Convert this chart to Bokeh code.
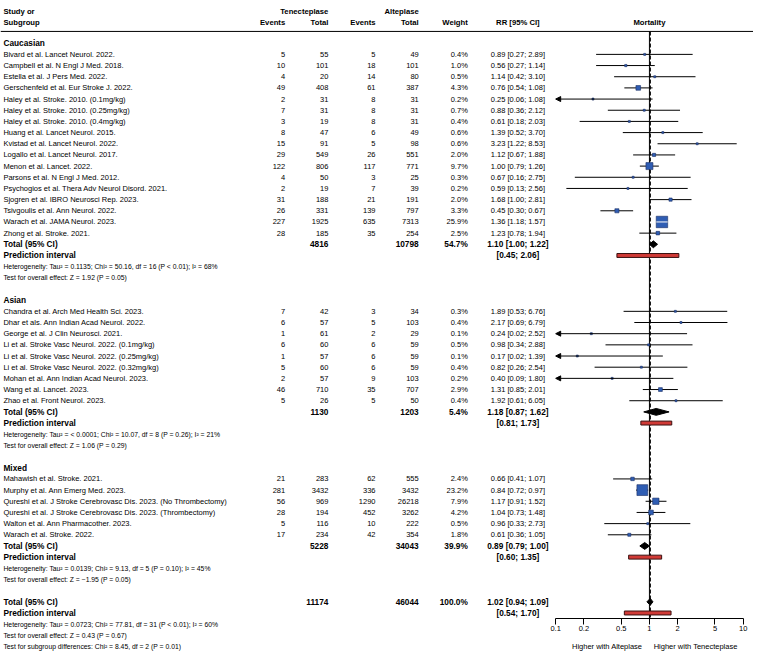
import math
from bokeh.plotting import figure
from bokeh.models import (Range1d, Span, ColumnDataSource, FixedTicker, LogScale, LabelSet,
                          CustomJSTickFormatter, LogAxis, Arrow, NormalHead)
from bokeh.embed import file_html
from bokeh.resources import INLINE
from bokeh.core.properties import value

FONT = "Liberation Sans"

# ---------------- data ----------------
caucasian_studies = [
    "Bivard et al. Lancet Neurol. 2022.",
    "Campbell et al. N Engl J Med. 2018.",
    "Estella et al. J Pers Med. 2022.",
    "Gerschenfeld et al. Eur Stroke J. 2022.",
    "Haley et al. Stroke. 2010. (0.1mg/kg)",
    "Haley et al. Stroke. 2010. (0.25mg/kg)",
    "Haley et al. Stroke. 2010. (0.4mg/kg)",
    "Huang et al. Lancet Neurol. 2015.",
    "Kvistad et al. Lancet Neurol. 2022.",
    "Logallo et al. Lancet Neurol. 2017.",
    "Menon et al. Lancet. 2022.",
    "Parsons et al. N Engl J Med. 2012.",
    "Psychogios et al. Thera Adv Neurol Disord. 2021.",
    "Sjogren et al. IBRO Neurosci Rep. 2023.",
    "Tsivgoulis et al. Ann Neurol. 2022.",
    "Warach et al. JAMA Neurol. 2023.",
    "Zhong et al. Stroke. 2021.",
]
caucasian_te_events = [5, 10, 4, 49, 2, 7, 3, 8, 15, 29, 122, 4, 2, 31, 26, 227, 28]
caucasian_te_total = [55, 101, 20, 408, 31, 31, 19, 47, 91, 549, 806, 50, 19, 188, 331, 1925, 185]
caucasian_al_events = [5, 18, 14, 61, 8, 8, 8, 6, 5, 26, 117, 3, 7, 21, 139, 635, 35]
caucasian_al_total = [49, 101, 80, 387, 31, 31, 31, 49, 98, 551, 771, 25, 39, 191, 797, 7313, 254]
caucasian_weight = [0.4, 1.0, 0.5, 4.3, 0.2, 0.7, 0.4, 0.6, 0.6, 2.0, 9.7, 0.3, 0.2, 2.0, 3.3, 25.9, 2.5]
caucasian_rr = [0.89, 0.56, 1.14, 0.76, 0.25, 0.88, 0.61, 1.39, 3.23, 1.12, 1.00, 0.67, 0.59, 1.68, 0.45, 1.36, 1.23]
caucasian_lo = [0.27, 0.27, 0.42, 0.54, 0.06, 0.36, 0.18, 0.52, 1.22, 0.67, 0.79, 0.16, 0.13, 1.00, 0.30, 1.18, 0.78]
caucasian_hi = [2.89, 1.14, 3.10, 1.08, 1.08, 2.12, 2.03, 3.70, 8.53, 1.88, 1.26, 2.75, 2.56, 2.81, 0.67, 1.57, 1.94]

asian_studies = [
    "Chandra et al. Arch Med Health Sci. 2023.",
    "Dhar et als. Ann Indian Acad Neurol. 2022.",
    "George et al. J Clin Neurosci. 2021.",
    "Li et al. Stroke Vasc Neurol. 2022. (0.1mg/kg)",
    "Li et al. Stroke Vasc Neurol. 2022. (0.25mg/kg)",
    "Li et al. Stroke Vasc Neurol. 2022. (0.32mg/kg)",
    "Mohan et al. Ann Indian Acad Neurol. 2023.",
    "Wang et al. Lancet. 2023.",
    "Zhao et al. Front Neurol. 2023.",
]
asian_te_events = [7, 6, 1, 6, 1, 5, 2, 46, 5]
asian_te_total = [42, 57, 61, 60, 57, 60, 57, 710, 26]
asian_al_events = [3, 5, 2, 6, 6, 6, 9, 35, 5]
asian_al_total = [34, 103, 29, 59, 59, 59, 103, 707, 50]
asian_weight = [0.3, 0.4, 0.1, 0.5, 0.1, 0.4, 0.2, 2.9, 0.4]
asian_rr = [1.89, 2.17, 0.24, 0.98, 0.17, 0.82, 0.40, 1.31, 1.92]
asian_lo = [0.53, 0.69, 0.02, 0.34, 0.02, 0.26, 0.09, 0.85, 0.61]
asian_hi = [6.76, 6.79, 2.52, 2.88, 1.39, 2.54, 1.80, 2.01, 6.05]

mixed_studies = [
    "Mahawish et al. Stroke. 2021.",
    "Murphy et al. Ann Emerg Med. 2023.",
    "Qureshi et al. J Stroke Cerebrovasc Dis. 2023. (No Thrombectomy)",
    "Qureshi et al. J Stroke Cerebrovasc Dis. 2023. (Thrombectomy)",
    "Walton et al. Ann Pharmacother. 2023.",
    "Warach et al. Stroke. 2022.",
]
mixed_te_events = [21, 281, 56, 28, 5, 17]
mixed_te_total = [283, 3432, 969, 194, 116, 234]
mixed_al_events = [62, 336, 1290, 452, 10, 42]
mixed_al_total = [555, 3432, 26218, 3262, 222, 354]
mixed_weight = [2.4, 23.2, 7.9, 4.2, 0.5, 1.8]
mixed_rr = [0.66, 0.84, 1.17, 1.04, 0.96, 0.61]
mixed_lo = [0.41, 0.72, 0.91, 0.73, 0.33, 0.36]
mixed_hi = [1.07, 0.97, 1.52, 1.48, 2.73, 1.05]

subgroup_names = ["Caucasian", "Asian", "Mixed"]
subgroup_te_total = [4816, 1130, 5228]
subgroup_al_total = [10798, 1203, 34043]
subgroup_weight = [54.7, 5.4, 39.9]
subgroup_rr = [1.10, 1.18, 0.89]
subgroup_lo = [1.00, 0.87, 0.79]
subgroup_hi = [1.22, 1.62, 1.00]
subgroup_pi_lo = [0.45, 0.81, 0.60]
subgroup_pi_hi = [2.06, 1.73, 1.35]
subgroup_het = [
    "Heterogeneity: Tau\u00b2 = 0.1135; Chi\u00b2 = 50.16, df = 16 (P < 0.01); I\u00b2 = 68%",
    "Heterogeneity: Tau\u00b2 = < 0.0001; Chi\u00b2 = 10.07, df = 8 (P = 0.26); I\u00b2 = 21%",
    "Heterogeneity: Tau\u00b2 = 0.0139; Chi\u00b2 = 9.13, df = 5 (P = 0.10); I\u00b2 = 45%",
]
subgroup_test = [
    "Test for overall effect: Z = 1.92 (P = 0.05)",
    "Test for overall effect: Z = 1.06 (P = 0.29)",
    "Test for overall effect: Z = \u22121.95 (P = 0.05)",
]

overall_te_total = 11174
overall_al_total = 46044
overall_weight = 100.0
overall_rr = 1.02
overall_lo = 0.94
overall_hi = 1.09
overall_pi_lo = 0.54
overall_pi_hi = 1.70
overall_notes = [
    "Heterogeneity: Tau\u00b2 = 0.0723; Chi\u00b2 = 77.81, df = 31 (P < 0.01); I\u00b2 = 60%",
    "Test for overall effect: Z = 0.43 (P = 0.67)",
    "Test for subgroup differences: Chi\u00b2 = 8.45, df = 2 (P = 0.01)",
]

null_rr = 1.0
axis_ticks = [0.1, 0.2, 0.5, 1, 2, 5, 10]
caption_labels = ["Higher with Alteplase", "Higher with Tenecteplase"]

# ---------------- layout constants (reference pixel units) ----------------
W, H = 753, 654
REF_W = 767
K = W / REF_W
REF_H = H / K
AXIS_Y = 629               # axis line position
CAPTION_Y = 650
Y0, STEP = 43.5, 11.38
H1, H2, HLINE = 11.5, 22.5, 31.5
X_LABEL = 3
COL = dict(te_ev=290, te_tot=334, al_ev=382, al_tot=426, wt=476, rr=527)
PX_PER_DECADE = 95.5
X_NULL_PX = 661
FS_REG, FS_BOLD, FS_HEAD, FS_SMALL = "7.5px", "8.3px", "7.7px", "6.8px"

texts = {}
def add_text(key, x, y, t):
    d = texts.setdefault(key, dict(x=[], y=[], t=[]))
    d["x"].append(x); d["y"].append(y); d["t"].append(t)

def rrtxt(r, l, h):
    return f"{r:.2f} [{l:.2f}; {h:.2f}]"

HB = ("bold", FS_HEAD)
GB = ("bold", FS_BOLD)
RG = ("normal", FS_REG)
SM = ("normal", FS_SMALL)

# header
add_text(("left",) + HB, X_LABEL, H1, "Study or")
add_text(("left",) + HB, X_LABEL, H2, "Subgroup")
add_text(("right",) + HB, COL["te_tot"], H1, "Tenecteplase")
add_text(("right",) + HB, COL["al_tot"], H1, "Alteplase")
add_text(("right",) + HB, COL["te_ev"], H2, "Events")
add_text(("right",) + HB, COL["te_tot"], H2, "Total")
add_text(("right",) + HB, COL["al_ev"], H2, "Events")
add_text(("right",) + HB, COL["al_tot"], H2, "Total")
add_text(("right",) + HB, COL["wt"], H2, "Weight")
add_text(("center",) + HB, COL["rr"], H2, "RR [95% CI]")

study = dict(y=[], rr=[], lo=[], hi=[], w=[])
dia = dict(y=[], rr=[], lo=[], hi=[])
pred = dict(y=[], lo=[], hi=[])

groups = [
    (caucasian_studies, caucasian_te_events, caucasian_te_total, caucasian_al_events,
     caucasian_al_total, caucasian_weight, caucasian_rr, caucasian_lo, caucasian_hi),
    (asian_studies, asian_te_events, asian_te_total, asian_al_events,
     asian_al_total, asian_weight, asian_rr, asian_lo, asian_hi),
    (mixed_studies, mixed_te_events, mixed_te_total, mixed_al_events,
     mixed_al_total, mixed_weight, mixed_rr, mixed_lo, mixed_hi),
]

def ypos(k):
    return Y0 + k * STEP

i = 0
for g, (names, tev, ttot, aev, atot, wt, rr, lo, hi) in enumerate(groups):
    add_text(("left",) + GB, X_LABEL, ypos(i), subgroup_names[g]); i += 1
    for k in range(len(names)):
        y = ypos(i)
        add_text(("left",) + RG, X_LABEL, y, names[k])
        add_text(("right",) + RG, COL["te_ev"], y, str(tev[k]))
        add_text(("right",) + RG, COL["te_tot"], y, str(ttot[k]))
        add_text(("right",) + RG, COL["al_ev"], y, str(aev[k]))
        add_text(("right",) + RG, COL["al_tot"], y, str(atot[k]))
        add_text(("right",) + RG, COL["wt"], y, f"{wt[k]:.1f}%")
        add_text(("center",) + RG, COL["rr"], y, rrtxt(rr[k], lo[k], hi[k]))
        study["y"].append(y); study["rr"].append(rr[k]); study["lo"].append(lo[k])
        study["hi"].append(hi[k]); study["w"].append(wt[k])
        i += 1
    y = ypos(i)
    add_text(("left",) + GB, X_LABEL, y, "Total (95% CI)")
    add_text(("right",) + GB, COL["te_tot"], y, str(subgroup_te_total[g]))
    add_text(("right",) + GB, COL["al_tot"], y, str(subgroup_al_total[g]))
    add_text(("right",) + GB, COL["wt"], y, f"{subgroup_weight[g]:.1f}%")
    add_text(("center",) + GB, COL["rr"], y, rrtxt(subgroup_rr[g], subgroup_lo[g], subgroup_hi[g]))
    dia["y"].append(y); dia["rr"].append(subgroup_rr[g]); dia["lo"].append(subgroup_lo[g]); dia["hi"].append(subgroup_hi[g])
    i += 1
    y = ypos(i)
    add_text(("left",) + GB, X_LABEL, y, "Prediction interval")
    add_text(("center",) + GB, COL["rr"], y, f"[{subgroup_pi_lo[g]:.2f}; {subgroup_pi_hi[g]:.2f}]")
    pred["y"].append(y); pred["lo"].append(subgroup_pi_lo[g]); pred["hi"].append(subgroup_pi_hi[g])
    i += 1
    add_text(("left",) + SM, X_LABEL, ypos(i), subgroup_het[g]); i += 1
    add_text(("left",) + SM, X_LABEL, ypos(i), subgroup_test[g]); i += 1
    i += 1  # blank row

y = ypos(i)
add_text(("left",) + GB, X_LABEL, y, "Total (95% CI)")
add_text(("right",) + GB, COL["te_tot"], y, str(overall_te_total))
add_text(("right",) + GB, COL["al_tot"], y, str(overall_al_total))
add_text(("right",) + GB, COL["wt"], y, f"{overall_weight:.1f}%")
add_text(("center",) + GB, COL["rr"], y, rrtxt(overall_rr, overall_lo, overall_hi))
dia["y"].append(y); dia["rr"].append(overall_rr); dia["lo"].append(overall_lo); dia["hi"].append(overall_hi)
i += 1
y = ypos(i)
add_text(("left",) + GB, X_LABEL, y, "Prediction interval")
add_text(("center",) + GB, COL["rr"], y, f"[{overall_pi_lo:.2f}; {overall_pi_hi:.2f}]")
pred["y"].append(y); pred["lo"].append(overall_pi_lo); pred["hi"].append(overall_pi_hi)
i += 1
for note in overall_notes:
    add_text(("left",) + SM, X_LABEL, ypos(i), note); i += 1

# ---------------- figure ----------------
rr_range = Range1d(10 ** ((0 - X_NULL_PX) / PX_PER_DECADE), 10 ** ((REF_W - X_NULL_PX) / PX_PER_DECADE))
p = figure(width=W, height=H, x_range=Range1d(0, REF_W), y_range=Range1d(REF_H, 0),
           extra_x_ranges={"rr": rr_range}, extra_x_scales={"rr": LogScale()},
           output_backend="svg", toolbar_location=None, min_border=0,
           min_border_left=0, min_border_right=0, min_border_top=0, min_border_bottom=0,
           x_axis_location=None, y_axis_location=None, outline_line_color=None)
p.grid.visible = False

p.add_layout(Span(location=HLINE, dimension="width", line_color="black", line_width=1))

for (align, style, size), d in texts.items():
    src = ColumnDataSource(dict(x=d["x"], y=d["y"], t=d["t"]))
    p.add_layout(LabelSet(x="x", y="y", text="t", source=src, text_align=align,
                          text_baseline="middle", text_font=value(FONT), text_font_style=style,
                          text_font_size=value(size), text_color="black"))

p.text(x=[null_rr], y=[H2], text=["Mortality"], x_range_name="rr", text_align="center",
       text_baseline="middle", text_font=value(FONT), text_font_style="bold",
       text_font_size=value(FS_HEAD))

# reference lines
p.segment(x0=[null_rr], y0=[HLINE], x1=[null_rr], y1=[AXIS_Y], x_range_name="rr",
          line_color="black", line_width=1)
p.segment(x0=[overall_rr], y0=[HLINE], x1=[overall_rr], y1=[AXIS_Y], x_range_name="rr",
          line_color="black", line_width=1.3, line_dash="4 2")

xmin, xmax = axis_ticks[0], axis_ticks[-1]
seg = dict(y=[], x0=[], x1=[])
arr = dict(y=[], xs=[], xe=[])
for y, lo, hi in zip(study["y"], study["lo"], study["hi"]):
    if lo < xmin:
        arr["y"].append(y); arr["xs"].append(min(hi, xmax)); arr["xe"].append(xmin)
    else:
        seg["y"].append(y); seg["x0"].append(lo); seg["x1"].append(min(hi, xmax))

p.segment(x0="x0", y0="y", x1="x1", y1="y", source=ColumnDataSource(seg), x_range_name="rr",
          line_color="black", line_width=1)
p.add_layout(Arrow(end=NormalHead(size=5, fill_color="black", line_color="black"),
                   source=ColumnDataSource(arr), x_start="xs", y_start="y", x_end="xe", y_end="y",
                   x_range_name="rr", line_color="black", line_width=1))

sizes = [max(2.0, 2.25 * math.sqrt(w)) for w in study["w"]]
p.scatter(x=study["rr"], y=study["y"], size=sizes, marker="square", x_range_name="rr",
          fill_color="#2F5DB3", line_color="#1B2F63", line_width=0.6)

ins = dict(y=[], x0=[], x1=[])
for y, lo, hi, s in zip(study["y"], study["lo"], study["hi"], sizes):
    if PX_PER_DECADE * math.log10(hi / lo) < s * 1.1:
        ins["y"].append(y); ins["x0"].append(lo); ins["x1"].append(hi)
p.segment(x0="x0", y0="y", x1="x1", y1="y", source=ColumnDataSource(ins), x_range_name="rr",
          line_color="white", line_width=1)

DH = 3.5
p.patches(xs=[[l, r, h, r] for l, r, h in zip(dia["lo"], dia["rr"], dia["hi"])],
          ys=[[y, y - DH, y, y + DH] for y in dia["y"]], x_range_name="rr",
          fill_color="black", line_color="black", line_width=1)

p.quad(left=pred["lo"], right=pred["hi"], top=[y - 2 for y in pred["y"]],
       bottom=[y + 2 for y in pred["y"]], x_range_name="rr",
       fill_color="#D03A36", line_color="#3a1010", line_width=1)

ax = LogAxis(x_range_name="rr", ticker=FixedTicker(ticks=axis_ticks),
             formatter=CustomJSTickFormatter(code="return String(tick);"),
             bounds=(xmin, xmax), major_tick_out=6, major_tick_in=0,
             minor_tick_line_color=None, major_label_standoff=2,
             major_label_text_font=FONT, major_label_text_font_size=FS_REG,
             major_label_text_color="black", axis_line_color="black",
             major_tick_line_color="black", fixed_location=AXIS_Y)
p.add_layout(ax, "below")

cap_pos = [10 ** ((618 - X_NULL_PX) / PX_PER_DECADE), 10 ** ((708 - X_NULL_PX) / PX_PER_DECADE)]
cap = LogAxis(x_range_name="rr", ticker=FixedTicker(ticks=cap_pos),
              formatter=CustomJSTickFormatter(args=dict(a=caption_labels[0], b=caption_labels[1]),
                                              code="return tick < 1 ? a : b;"),
              axis_line_color=None, major_tick_line_color=None, minor_tick_line_color=None,
              major_tick_out=0, major_tick_in=0, major_label_standoff=3,
              major_label_text_font=FONT, major_label_text_font_size=FS_REG,
              major_label_text_color="black", fixed_location=CAPTION_Y)
p.add_layout(cap, "below")

open("out.html", "w").write(file_html(p, INLINE))
